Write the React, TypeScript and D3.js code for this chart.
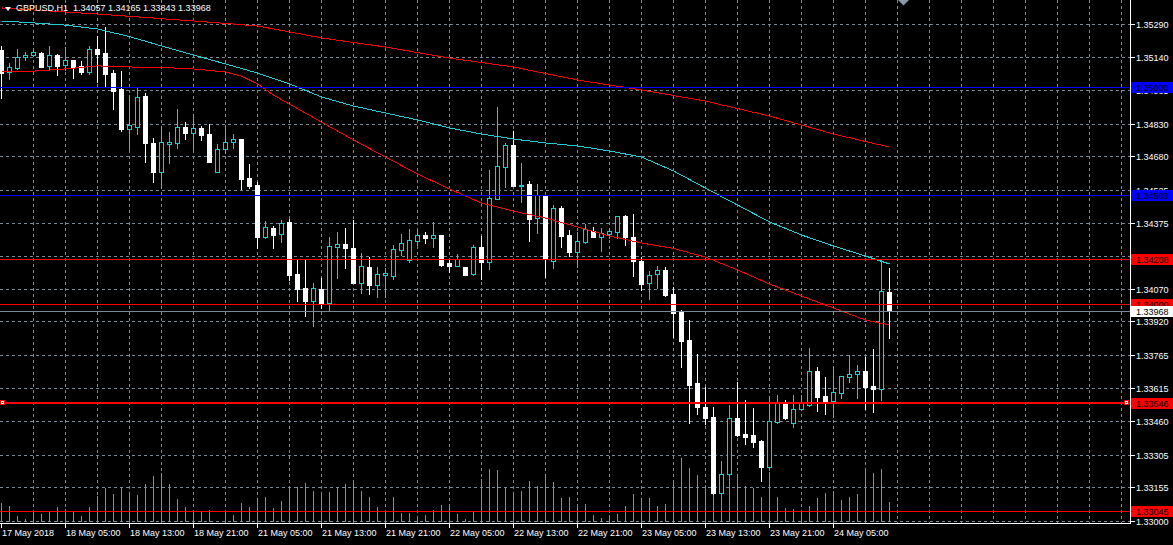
import React from 'react';
import * as d3 from 'd3';

const TITLE = 'GBPUSD,H1  1.34057 1.34165 1.33843 1.33968';
const timeLabels = ['17 May 2018', '18 May 05:00', '18 May 13:00', '18 May 21:00', '21 May 05:00', '21 May 13:00', '21 May 21:00', '22 May 05:00', '22 May 13:00', '22 May 21:00', '23 May 05:00', '23 May 13:00', '23 May 21:00', '24 May 05:00'];
const priceTicks = [1.35290, 1.35140, 1.34985, 1.34830, 1.34680, 1.34525, 1.34375, 1.34220, 1.34070, 1.33920, 1.33765, 1.33615, 1.33460, 1.33305, 1.33155, 1.33000];

const opens = [1.35170,1.35070,1.35089,1.35137,1.35149,1.35155,1.35098,1.35147,1.35103,1.35123,1.35097,1.35070,1.35175,1.35156,1.35063,1.34989,1.34808,1.34817,1.34958,1.34740,1.34610,1.34739,1.34743,1.34815,1.34789,1.34811,1.34783,1.34610,1.34716,1.34745,1.34760,1.34580,1.34548,1.34310,1.34349,1.34321,1.34378,1.34138,1.34074,1.34015,1.34069,1.34006,1.34264,1.34276,1.34258,1.34098,1.34170,1.34089,1.34135,1.34130,1.34247,1.34204,1.34292,1.34318,1.34305,1.34318,1.34189,1.34176,1.34170,1.34138,1.34261,1.34195,1.34485,1.34633,1.34733,1.34544,1.34553,1.34395,1.34502,1.34199,1.34441,1.34318,1.34241,1.34287,1.34338,1.34310,1.34324,1.34333,1.34404,1.34310,1.34197,1.34095,1.34137,1.34157,1.34046,1.33969,1.33834,1.33636,1.33525,1.33481,1.33128,1.33215,1.33473,1.33401,1.33396,1.33369,1.33247,1.33455,1.33539,1.33450,1.33515,1.33534,1.33690,1.33576,1.33554,1.33591,1.33665,1.33676,1.33691,1.33622,1.33607,1.34057];
const highs = [1.35189,1.35112,1.35173,1.35160,1.35181,1.35161,1.35189,1.35153,1.35183,1.35123,1.35120,1.35189,1.35235,1.35278,1.35078,1.35075,1.34963,1.34994,1.34974,1.34765,1.34820,1.34792,1.34898,1.34838,1.34875,1.34820,1.34829,1.34737,1.34825,1.34783,1.34762,1.34645,1.34563,1.34382,1.34359,1.34387,1.34390,1.34203,1.34209,1.34095,1.34118,1.34307,1.34332,1.34349,1.34387,1.34233,1.34218,1.34170,1.34166,1.34270,1.34322,1.34345,1.34347,1.34332,1.34378,1.34320,1.34203,1.34229,1.34172,1.34273,1.34313,1.34617,1.34909,1.34740,1.34797,1.34651,1.34567,1.34553,1.34504,1.34456,1.34451,1.34341,1.34332,1.34368,1.34353,1.34349,1.34349,1.34406,1.34410,1.34415,1.34218,1.34153,1.34175,1.34169,1.34077,1.33971,1.33926,1.33770,1.33616,1.33527,1.33278,1.33534,1.33640,1.33558,1.33522,1.33373,1.33576,1.33581,1.33558,1.33579,1.33579,1.33797,1.33711,1.33665,1.33711,1.33669,1.33765,1.33719,1.33757,1.33793,1.34206,1.34165];
const lows = [1.34949,1.35037,1.35081,1.35124,1.35143,1.35092,1.35078,1.35055,1.35078,1.35043,1.35060,1.35060,1.35024,1.35006,1.34898,1.34797,1.34714,1.34783,1.34656,1.34562,1.34533,1.34651,1.34720,1.34762,1.34714,1.34756,1.34654,1.34608,1.34697,1.34720,1.34528,1.34536,1.34257,1.34305,1.34259,1.34287,1.34111,1.34015,1.33946,1.33900,1.33980,1.33972,1.34121,1.34164,1.34096,1.34049,1.34046,1.34034,1.34034,1.34116,1.34226,1.34195,1.34272,1.34282,1.34264,1.34175,1.34146,1.34174,1.34132,1.34134,1.34115,1.34161,1.34483,1.34540,1.34542,1.34471,1.34292,1.34328,1.34126,1.34167,1.34264,1.34222,1.34172,1.34280,1.34308,1.34245,1.34303,1.34303,1.34272,1.34130,1.34064,1.34022,1.34075,1.34037,1.33846,1.33711,1.33453,1.33493,1.33446,1.33126,1.33126,1.33213,1.33393,1.33355,1.33342,1.33186,1.33245,1.33453,1.33471,1.33435,1.33513,1.33532,1.33508,1.33493,1.33481,1.33565,1.33642,1.33565,1.33515,1.33504,1.33558,1.33843];
const closes = [1.35064,1.35091,1.35137,1.35147,1.35160,1.35093,1.35147,1.35097,1.35123,1.35093,1.35070,1.35173,1.35152,1.35060,1.34983,1.34806,1.34823,1.34952,1.34743,1.34608,1.34745,1.34746,1.34814,1.34789,1.34809,1.34779,1.34656,1.34713,1.34745,1.34759,1.34577,1.34545,1.34310,1.34353,1.34318,1.34372,1.34134,1.34069,1.34014,1.34072,1.34003,1.34266,1.34275,1.34259,1.34098,1.34174,1.34089,1.34137,1.34141,1.34252,1.34280,1.34293,1.34316,1.34305,1.34316,1.34180,1.34176,1.34206,1.34134,1.34261,1.34195,1.34487,1.34636,1.34733,1.34544,1.34548,1.34393,1.34502,1.34206,1.34441,1.34315,1.34241,1.34289,1.34345,1.34310,1.34328,1.34335,1.34404,1.34310,1.34199,1.34093,1.34134,1.34157,1.34041,1.33960,1.33831,1.33628,1.33527,1.33476,1.33128,1.33215,1.33473,1.33396,1.33388,1.33365,1.33250,1.33461,1.33542,1.33473,1.33515,1.33550,1.33690,1.33573,1.33554,1.33593,1.33667,1.33676,1.33690,1.33619,1.33607,1.34058,1.33968];
const volumes = [1930,1600,600,300,1130,800,1030,1500,1300,1030,600,1500,2630,3430,2800,3400,3030,2700,3830,4600,4930,3830,2300,1500,1200,1030,1200,100,1030,700,1930,1530,2370,2530,1400,2100,3530,3470,3930,3130,3030,3030,3470,3830,4200,3130,2530,1500,1100,2500,930,930,600,700,1200,1700,1770,800,300,1030,4300,5300,5200,3370,3030,3100,4100,3600,4770,4000,2370,2500,1770,1800,700,400,700,800,1600,2800,2370,2370,1600,1800,4130,6400,5400,4700,3700,4400,4530,5300,4770,3600,3430,2530,4970,2500,1400,1300,1030,1630,2400,2930,3100,2200,2500,2800,5400,4930,5300,2030];

const fastIdx = [0,4,8,12,16,20,24,28,30,32,34,36,40,44,48,52,56,60,64,68,72,76,80,84,88,92,96,100,104,108,111];
const fastMA = [1.35073,1.35073,1.35083,1.35097,1.35092,1.35090,1.35083,1.35069,1.35050,1.35014,1.34963,1.34921,1.34838,1.34756,1.34677,1.34599,1.34530,1.34465,1.34428,1.34396,1.34355,1.34313,1.34281,1.34256,1.34216,1.34157,1.34092,1.34037,1.33981,1.33926,1.33903];
const midIdx = [0,4,8,12,16,20,24,28,32,36,40,44,48,52,56,60,64,68,72,76,80,84,88,92,96,100,104,108,111];
const midMA = [1.35304,1.35295,1.35285,1.35267,1.35232,1.35189,1.35147,1.35106,1.35064,1.35014,1.34954,1.34912,1.34880,1.34848,1.34811,1.34783,1.34760,1.34742,1.34728,1.34705,1.34677,1.34613,1.34534,1.34456,1.34378,1.34318,1.34267,1.34221,1.34184];
const slowIdx = [0,12,24,32,40,48,56,64,72,80,88,96,104,111];
const slowMA = [1.35364,1.35336,1.35304,1.35281,1.35226,1.35184,1.35133,1.35092,1.35032,1.34986,1.34935,1.34866,1.34783,1.34723];

const blueLevels = [1.35000, 1.34503];
const redLevels = [1.34208, 1.34000, 1.33045];
const supportLevel = 1.33546;
const bidPrice = 1.33968;

const W = 1173, H = 545;
const PLOT_R = 1130, PLOT_B = 523;
const FONT = '"Liberation Sans", Arial, sans-serif';
const CYAN = '#1ccfd6';
const GRID = '#778899';

export default function App() {
  const x = d3.scaleLinear().domain([0, 1]).range([1, 9]);
  const y = d3.scaleLinear().domain([1.33, 1.3529]).range([521, 24]);
  const vy = d3.scaleLinear().domain([0, 6400]).range([522, 458]);
  const Y = (p: number) => Math.round(y(p));
  const X = (i: number) => Math.round(x(i));

  const vGrid = d3.range(4, 141, 4).map(X).filter(v => v < PLOT_R);
  const lineGen = (idx: number[]) => d3.line<number>().x((_, k) => X(idx[k]) + 0.5).y(v => y(v));

  const levelBoxes: { p: number; fill: string }[] = [
    { p: blueLevels[0], fill: '#0000ff' },
    { p: blueLevels[1], fill: '#0000ff' },
    { p: redLevels[0], fill: '#ff0000' },
    { p: redLevels[1], fill: '#ff0000' },
    { p: bidPrice, fill: '#ffffff' },
    { p: supportLevel, fill: '#ff0000' },
    { p: redLevels[2], fill: '#ff0000' },
  ];

  return (
    <svg width={W} height={H} style={{ position: 'absolute', left: 0, top: 0, background: '#000' }} shapeRendering="crispEdges">
      <rect x={0} y={0} width={W} height={H} fill="#000" />
      {/* grid */}
      <g stroke={GRID} strokeWidth={1} strokeDasharray="3,3">
        {vGrid.map(gx => <line key={'v' + gx} x1={gx + 0.5} x2={gx + 0.5} y1={0} y2={PLOT_B} />)}
        {priceTicks.map(t => <line key={'h' + t} x1={0} x2={PLOT_R} y1={Y(t) + 0.5} y2={Y(t) + 0.5} />)}
      </g>
      {/* volumes */}
      <g fill="#32cd32">
        {volumes.map((v, i) => <rect key={'vol' + i} x={X(i)} y={Math.round(vy(v))} width={1} height={522 - Math.round(vy(v))} />)}
      </g>
      {/* candles */}
      <g>
        {opens.map((o, i) => {
          const c = closes[i];
          const cx = X(i);
          const top = Y(Math.max(o, c));
          const bot = Y(Math.min(o, c));
          const hi = Y(highs[i]);
          const lo = Y(lows[i]);
          const bull = c > o;
          const col = bull ? CYAN : '#ffffff';
          return (
            <g key={'c' + i}>
              <rect x={cx} y={hi} width={1} height={lo - hi + 1} fill={col} />
              {bull ? (
                <rect x={cx - 1.5} y={top + 0.5} width={4} height={Math.max(bot - top, 0)} fill="#000" stroke={CYAN} strokeWidth={1} />
              ) : (
                <rect x={cx - 2} y={top} width={5} height={bot - top + 1} fill="#fff" />
              )}
            </g>
          );
        })}
      </g>
      {/* moving averages */}
      <g fill="none" strokeWidth={1}>
        <path d={lineGen(slowIdx)(slowMA) || ''} stroke="#ff0000" />
        <path d={lineGen(midIdx)(midMA) || ''} stroke={CYAN} />
        <path d={lineGen(fastIdx)(fastMA) || ''} stroke="#ff0000" />
      </g>
      {/* horizontal levels */}
      {blueLevels.map(p => <rect key={'b' + p} x={0} y={Y(p)} width={PLOT_R} height={1} fill="#0000ff" />)}
      {redLevels.map(p => <rect key={'r' + p} x={0} y={Y(p)} width={PLOT_R} height={1} fill="#ff0000" />)}
      <rect x={0} y={Y(bidPrice)} width={PLOT_R} height={1} fill={GRID} />
      <rect x={0} y={Y(supportLevel) - 1} width={PLOT_R} height={2} fill="#ff0000" />
      {[0, PLOT_R - 6].map(mx => (
        <g key={'m' + mx}>
          <rect x={mx} y={Y(supportLevel) - 3} width={5} height={5} fill="#ff0000" />
          <rect x={mx + 1} y={Y(supportLevel) - 2} width={3} height={3} fill="#ffffff" />
          <rect x={mx + 2} y={Y(supportLevel) - 1} width={1} height={1} fill="#ff0000" />
        </g>
      ))}
      {/* chart shift marker */}
      <path d="M898,0 L909,0 L903.5,5.5 Z" fill="#8899aa" shapeRendering="auto" />
      {/* axes */}
      <rect x={PLOT_R} y={0} width={1} height={PLOT_B + 1} fill="#fff" />
      <rect x={0} y={PLOT_B} width={PLOT_R + 1} height={1} fill="#fff" />
      {priceTicks.map(t => <rect key={'pt' + t} x={PLOT_R + 1} y={Y(t)} width={4} height={1} fill="#fff" />)}
      <g fill="#fff" fontFamily={FONT} fontSize={9}>
        {priceTicks.map(t => <text key={'pl' + t} x={1136} y={Y(t) + 3.5}>{t.toFixed(5)}</text>)}
      </g>
      {timeLabels.map((lab, k) => {
        const tx = X(k * 8);
        return (
          <g key={'tl' + k}>
            <rect x={tx} y={PLOT_B + 1} width={1} height={4} fill="#fff" />
            <text x={tx + 1} y={536} fill="#fff" fontFamily={FONT} fontSize={9}>{lab}</text>
          </g>
        );
      })}
      {/* price label boxes */}
      {levelBoxes.map(b => (
        <g key={'lb' + b.p}>
          <rect x={PLOT_R + 1} y={Y(b.p) - 5} width={W - PLOT_R - 1} height={11} fill={b.fill} />
          <text x={1136} y={Y(b.p) + 3.5} fill="#000" fontFamily={FONT} fontSize={9}>{b.p.toFixed(5)}</text>
        </g>
      ))}
      {/* title */}
      <path d="M5,7 L11,7 L8,11 Z" fill="#fff" shapeRendering="auto" />
      <text x={16} y={11} fill="#fff" fontFamily={FONT} fontSize={9} style={{ whiteSpace: 'pre' }}>{TITLE}</text>
    </svg>
  );
}
